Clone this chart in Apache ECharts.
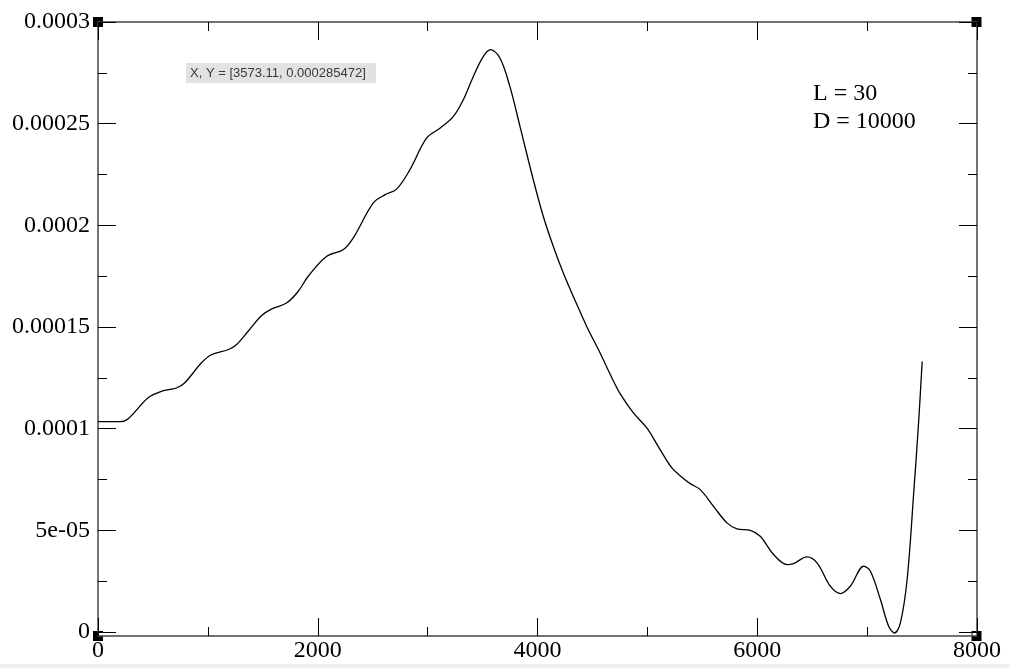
<!DOCTYPE html>
<html>
<head>
<meta charset="utf-8">
<script src="https://cdn.jsdelivr.net/npm/echarts@6/dist/echarts.min.js"></script>
<style>
html,body{margin:0;padding:0;background:#fff;}
#c{width:1009px;height:668px;}
</style>
</head>
<body>
<div id="c"></div>
<script>
// Data
var xValues = [0,196,272,454,576,713,788,940,1031,1183,1259,1365,1487,1578,1715,1821,1912,2079,2231,2322,2504,2610,2717,2838,2990,3112,3233,3324,3415,3506,3573.11,3658,3749,3841,3962,4053,4144,4235,4326,4448,4570,4661,4752,4873,4995,5116,5223,5298,5390,5481,5602,5724,5815,5937,6027,6149,6271,6331,6453,6544,6665,6756,6847,6969,7030,7121,7196,7250,7303,7364,7424,7470,7501];
var yValues = [1.0344e-4,1.0344e-4,1.0477e-4,1.1509e-4,1.1833e-4,1.2000e-4,1.2246e-4,1.3228e-4,1.3636e-4,1.3882e-4,1.4128e-4,1.4781e-4,1.5553e-4,1.5882e-4,1.6177e-4,1.6747e-4,1.7484e-4,1.8467e-4,1.8796e-4,1.9371e-4,2.1091e-4,2.1499e-4,2.1779e-4,2.2727e-4,2.4285e-4,2.4776e-4,2.5346e-4,2.6167e-4,2.7312e-4,2.8300e-4,2.8640e-4,2.8230e-4,2.6821e-4,2.4855e-4,2.2236e-4,2.0432e-4,1.8958e-4,1.7651e-4,1.6501e-4,1.5027e-4,1.3720e-4,1.2680e-4,1.1720e-4,1.0772e-4,1.0034e-4,8.968e-5,8.069e-5,7.690e-5,7.297e-5,7.002e-5,6.182e-5,5.366e-5,5.071e-5,5.002e-5,4.708e-5,3.808e-5,3.317e-5,3.366e-5,3.695e-5,3.400e-5,2.251e-5,1.892e-5,2.251e-5,3.233e-5,2.988e-5,1.597e-5,2.85e-6,-5e-7,4.52e-6,2.580e-5,6.840e-5,1.0442e-4,1.3307e-4];
var xTickLabels = ["0","2000","4000","6000","8000"];
var yTickLabels = ["0","5e-05","0.0001","0.00015","0.0002","0.00025","0.0003"];
var annotationLines = ["L = 30","D = 10000"];
var cursorText = "X, Y = [3573.11, 0.000285472]";

var seriesData = xValues.map(function(x,i){return [x,yValues[i]];});

var serif = '"Liberation Serif","DejaVu Serif",serif';
var axisLineStyle = {color:'#444', width:1.5};
var tickStyle = {color:'#000', width:1};

function xAxisCfg(pos, showLabels, offset){
  return {
    type:'value', position:pos, min:0, max:8000, interval:2000, offset:offset||0,
    axisLine:{show:true, onZero:false, lineStyle:axisLineStyle},
    axisTick:{show:true, inside:true, length:18, lineStyle:tickStyle},
    minorTick:{show:true, splitNumber:2, length:9, lineStyle:tickStyle},
    splitLine:{show:false}, minorSplitLine:{show:false},
    axisLabel:{show:showLabels, margin:3, color:'#000', fontFamily:serif, fontSize:24,
      showMinLabel:true, showMaxLabel:true,
      formatter:function(v,i){return xTickLabels[i];}}
  };
}
function yAxisCfg(pos, showLabels){
  return {
    type:'value', position:pos, min:0, max:0.0003, interval:0.00005,
    axisLine:{show:true, onZero:false, lineStyle:axisLineStyle},
    axisTick:{show:true, inside:true, length:18, lineStyle:tickStyle},
    minorTick:{show:true, splitNumber:2, length:9, lineStyle:tickStyle},
    splitLine:{show:false}, minorSplitLine:{show:false},
    axisLabel:{show:showLabels, margin:8, color:'#000', fontFamily:serif, fontSize:24,
      showMinLabel:true, showMaxLabel:true,
      formatter:function(v,i){return yTickLabels[i];}}
  };
}

var chart = echarts.init(document.getElementById('c'), null, {renderer:'canvas'});
var option = {
  animation:false,
  backgroundColor:'#fff',
  grid:{left:98, right:32, top:22, bottom:36, containLabel:false},
  xAxis:[xAxisCfg('bottom', true, 4), xAxisCfg('top', false, 0)],
  yAxis:[yAxisCfg('left', true), yAxisCfg('right', false)],
  series:[{
    type:'line', xAxisIndex:0, yAxisIndex:0, data:seriesData,
    showSymbol:false, smooth:0.35, clip:false,
    lineStyle:{color:'#000', width:1.3}
  }],
  graphic:[
    {type:'rect', shape:{x:0,y:664,width:1009,height:4}, style:{fill:'#efefef'}, silent:true},
    {type:'rect', shape:{x:186,y:63,width:190,height:20}, style:{fill:'#e2e2e2'}, silent:true},
    {type:'text', x:190, y:73, style:{text:cursorText, fill:'#3a3a3a', font:'13px "Liberation Sans", Arial, sans-serif', verticalAlign:'middle', align:'left'}, silent:true},
    {type:'text', x:813, y:94, style:{text:annotationLines[0], fill:'#000', font:'24px "Liberation Serif", serif', verticalAlign:'middle', align:'left'}, silent:true},
    {type:'text', x:813, y:122, style:{text:annotationLines[1], fill:'#000', font:'24px "Liberation Serif", serif', verticalAlign:'middle', align:'left'}, silent:true},
    {type:'rect', shape:{x:93,y:17,width:10,height:10}, style:{fill:'#000'}, silent:true},
    {type:'rect', shape:{x:971.5,y:17,width:10,height:10}, style:{fill:'#000'}, silent:true},
    {type:'rect', shape:{x:93,y:631,width:10,height:10}, style:{fill:'#000'}, silent:true},
    {type:'rect', shape:{x:99,y:632,width:4,height:4}, style:{fill:'#fff'}, silent:true},
    {type:'rect', shape:{x:971.5,y:631,width:10,height:10}, style:{fill:'#000'}, silent:true},
    {type:'rect', shape:{x:972.5,y:632,width:4,height:4}, style:{fill:'#fff'}, silent:true}
  ]
};
chart.setOption(option);
</script>
</body>
</html>
